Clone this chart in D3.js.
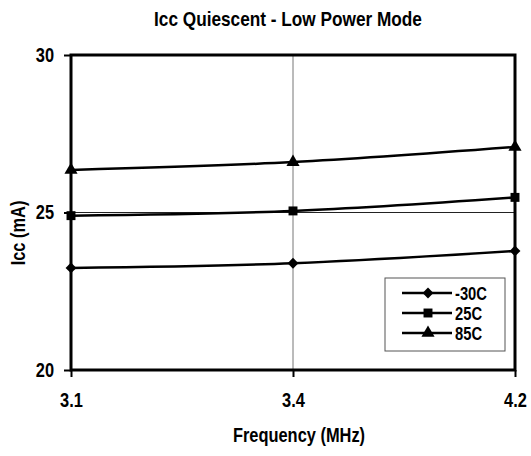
<!DOCTYPE html>
<html><head><meta charset="utf-8">
<script src="https://cdn.jsdelivr.net/npm/d3@7"></script>
<style>body{margin:0;background:#fff}svg{display:block}text{font-family:"Liberation Sans",Arial,sans-serif;font-weight:bold;fill:#000}</style>
</head><body><svg id="c" width="531" height="456"></svg>
<script>
const categories = ["3.1", "3.4", "4.2"];
const seriesNames = ["-30C", "25C", "85C"];
const valuesM30 = [23.24, 23.39, 23.78];
const values25 = [24.9, 25.05, 25.48];
const values85 = [26.35, 26.6, 27.08];
const yTicks = [20, 25, 30];
const symbols = [d3.symbolDiamond2, d3.symbolSquare, d3.symbolTriangle];

const series = [valuesM30, values25, values85].map((v, i) => ({name: seriesNames[i], values: v, sym: symbols[i]}));

const NARROW = 0.82;
const FONT = "'Liberation Sans',Arial,sans-serif";
const svg = d3.select("#c");
const L = 71, R = 515, T = 55, B = 370;
const x = d3.scalePoint().domain(categories).range([L, R]);
const y = d3.scaleLinear().domain([20, 30]).range([B, T]);

svg.append("text").attr("x", 288).attr("y", 26).attr("text-anchor", "middle").style("font-size", "21px").text("Icc Quiescent - Low Power Mode");

// gridlines
svg.append("line").attr("x1", x("3.4")).attr("x2", x("3.4")).attr("y1", T).attr("y2", B).attr("stroke", "#777").attr("stroke-width", 1);
svg.append("line").attr("x1", L).attr("x2", R).attr("y1", y(25)).attr("y2", y(25)).attr("stroke", "#222").attr("stroke-width", 1);

// y axis
const ya = svg.append("g").attr("transform", `translate(${L},0)`).call(d3.axisLeft(y).tickValues(yTicks).tickSize(7).tickPadding(10));
ya.select(".domain").remove();
ya.selectAll("line").attr("stroke", "#000").attr("stroke-width", 2);
ya.selectAll("text").style("font-size", "20px").style("font-family", FONT).style("font-weight", "bold");

// x axis
const xa = svg.append("g").attr("transform", `translate(0,${B})`).call(d3.axisBottom(x).tickSize(7).tickPadding(16));
xa.select(".domain").remove();
xa.selectAll("line").attr("stroke", "#000").attr("stroke-width", 2);
xa.selectAll("text").style("font-size", "20px").style("font-family", FONT).style("font-weight", "bold");

// plot border
svg.append("rect").attr("x", L).attr("y", T).attr("width", R - L).attr("height", B - T).attr("fill", "none").attr("stroke", "#000").attr("stroke-width", 3);

const line = d3.line().x((d, i) => x(categories[i])).y(d => y(d)).curve(d3.curveCatmullRom);
series.forEach(s => {
  svg.append("path").attr("d", line(s.values)).attr("fill", "none").attr("stroke", "#000").attr("stroke-width", 2.5);
  svg.selectAll(null).data(s.values).enter().append("path")
    .attr("transform", (d, i) => `translate(${x(categories[i])},${y(d)})`)
    .attr("d", d3.symbol().type(s.sym).size(s.sym === d3.symbolSquare ? 80 : 75)).attr("fill", "#000");
});

// legend
const lg = svg.append("g");
lg.append("rect").attr("x", 385).attr("y", 278).attr("width", 120).attr("height", 73).attr("fill", "#fff").attr("stroke", "#555").attr("stroke-width", 1);
series.forEach((s, i) => {
  const yy = 293 + i * 20;
  lg.append("line").attr("x1", 402).attr("x2", 452).attr("y1", yy).attr("y2", yy).attr("stroke", "#000").attr("stroke-width", 2.5);
  lg.append("path").attr("transform", `translate(428,${yy})`).attr("d", d3.symbol().type(s.sym).size(s.sym === d3.symbolSquare ? 80 : 75)).attr("fill", "#000");
  lg.append("text").attr("x", 455).attr("y", yy + 6.5).style("font-size", "18px").text(s.name);
});

svg.append("text").attr("x", 299).attr("y", 442).attr("text-anchor", "middle").style("font-size", "20px").text("Frequency (MHz)");
svg.append("text").attr("transform", "translate(25,233) rotate(-90)").attr("text-anchor", "middle").style("font-size", "20px").text("Icc (mA)");

// condense all text (Arial Narrow look)
svg.selectAll("text").each(function() {
  const w = this.getComputedTextLength();
  d3.select(this).attr("textLength", w * NARROW).attr("lengthAdjust", "spacingAndGlyphs");
});
</script></body></html>
